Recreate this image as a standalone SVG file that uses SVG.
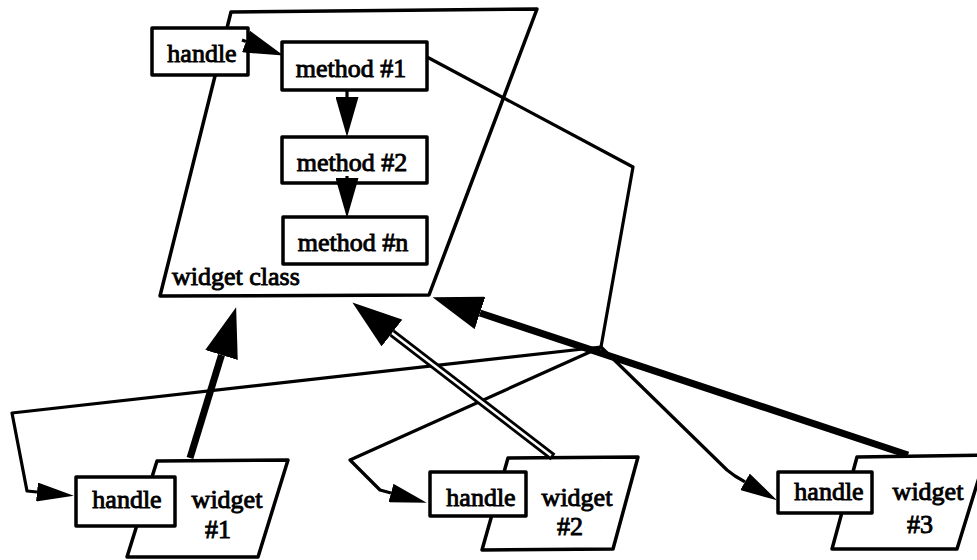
<svg xmlns="http://www.w3.org/2000/svg" width="977" height="560" viewBox="0 0 977 560">
<style>
.shape{fill:#fff;stroke:#000;stroke-width:3.5;stroke-linejoin:round}
.ln{fill:none;stroke:#000;stroke-width:3.2;stroke-linejoin:round}
.thick{fill:none;stroke:#000;stroke-width:7}
.dbl-out{fill:none;stroke:#000;stroke-width:8}
.dbl-in{fill:none;stroke:#fff;stroke-width:2.5}
text{font-family:"Liberation Serif","Times New Roman",serif;font-size:26px;fill:#000;stroke:#000;stroke-width:0.9}
.c{text-anchor:middle}
</style>
<defs>
<marker id="big" markerUnits="userSpaceOnUse" viewBox="0 0 50 34" markerWidth="50" markerHeight="34" refX="0" refY="17" orient="auto"><path d="M0,0 L50,17 L0,34 z" fill="#000"/></marker>
<marker id="med" markerUnits="userSpaceOnUse" viewBox="0 0 40 23" markerWidth="40" markerHeight="23" refX="0" refY="11.5" orient="auto"><path d="M0,0 L40,11.5 L0,23 z" fill="#000"/></marker>
<marker id="sm" markerUnits="userSpaceOnUse" viewBox="0 0 37 19" markerWidth="37" markerHeight="19" refX="0" refY="9.5" orient="auto"><path d="M0,0 L37,9.5 L0,19 z" fill="#000"/></marker>
</defs>

<g id="widget-class">
<path class="shape" d="M231,12 L537,9 L429,295 L160,296 Z"/>
<text x="172" y="285">widget class</text>
</g>
<g id="class-handle">
<rect class="shape" x="152" y="28" width="96" height="47"/>
<text class="c" x="202" y="62">handle</text>
</g>
<g id="method1">
<rect class="shape" x="282" y="42" width="145" height="48"/>
<text class="c" x="351" y="77">method #1</text>
</g>
<g id="method2">
<rect class="shape" x="282" y="137" width="145" height="46"/>
<text class="c" x="352" y="171">method #2</text>
</g>
<g id="methodn">
<rect class="shape" x="283" y="217" width="144" height="47"/>
<text class="c" x="353" y="251">method #n</text>
</g>

<g id="widget1">
<path class="shape" d="M157,461 L288,460 L258,557 L127,557 Z"/>
<text class="c" x="227" y="508">widget</text>
<text class="c" x="218" y="538">#1</text>
</g>
<g id="handle1">
<rect class="shape" x="76" y="477" width="99" height="49"/>
<text class="c" x="127" y="508">handle</text>
</g>
<g id="widget2">
<path class="shape" d="M508,458 L638,457 L613,549 L482,550 Z"/>
<text class="c" x="577" y="506">widget</text>
<text class="c" x="570" y="535">#2</text>
</g>
<g id="handle2">
<rect class="shape" x="430" y="472" width="96" height="44"/>
<text class="c" x="481" y="506">handle</text>
</g>
<g id="widget3">
<path class="shape" d="M857,457 L986,455 L957,549 L832,549 Z"/>
<text class="c" x="928" y="500">widget</text>
<text class="c" x="920" y="533">#3</text>
</g>
<g id="handle3">
<rect class="shape" x="778" y="472" width="94" height="41"/>
<text class="c" x="829" y="500">handle</text>
</g>

<g id="connectors">
<path class="ln" d="M242,40 L246,41.5" marker-end="url(#med)"/>
<path class="ln" d="M347,89 L347,97" marker-end="url(#med)"/>
<path class="ln" d="M347,176 L347,178" marker-end="url(#med)"/>
<path class="ln" d="M427,57 L633,167 L601,347"/>
<path class="ln" d="M601,347 L12,413 L27,491 L37,492" marker-end="url(#sm)"/>
<path class="ln" d="M601,347 L350,460 L380,490 L391,493" marker-end="url(#sm)"/>
<path class="ln" d="M601,347 L727,470 L735,476 L745,481.8" marker-end="url(#sm)"/>
<path class="thick" d="M190,458 L221.5,355" marker-end="url(#big)"/>
<path class="dbl-out" d="M553,457 L392,333"/>
<path class="dbl-in" d="M551,455.5 L392,333" marker-end="url(#big)"/>
<path class="thick" d="M908,455 L480,313" marker-end="url(#big)"/>
</g>
</svg>
